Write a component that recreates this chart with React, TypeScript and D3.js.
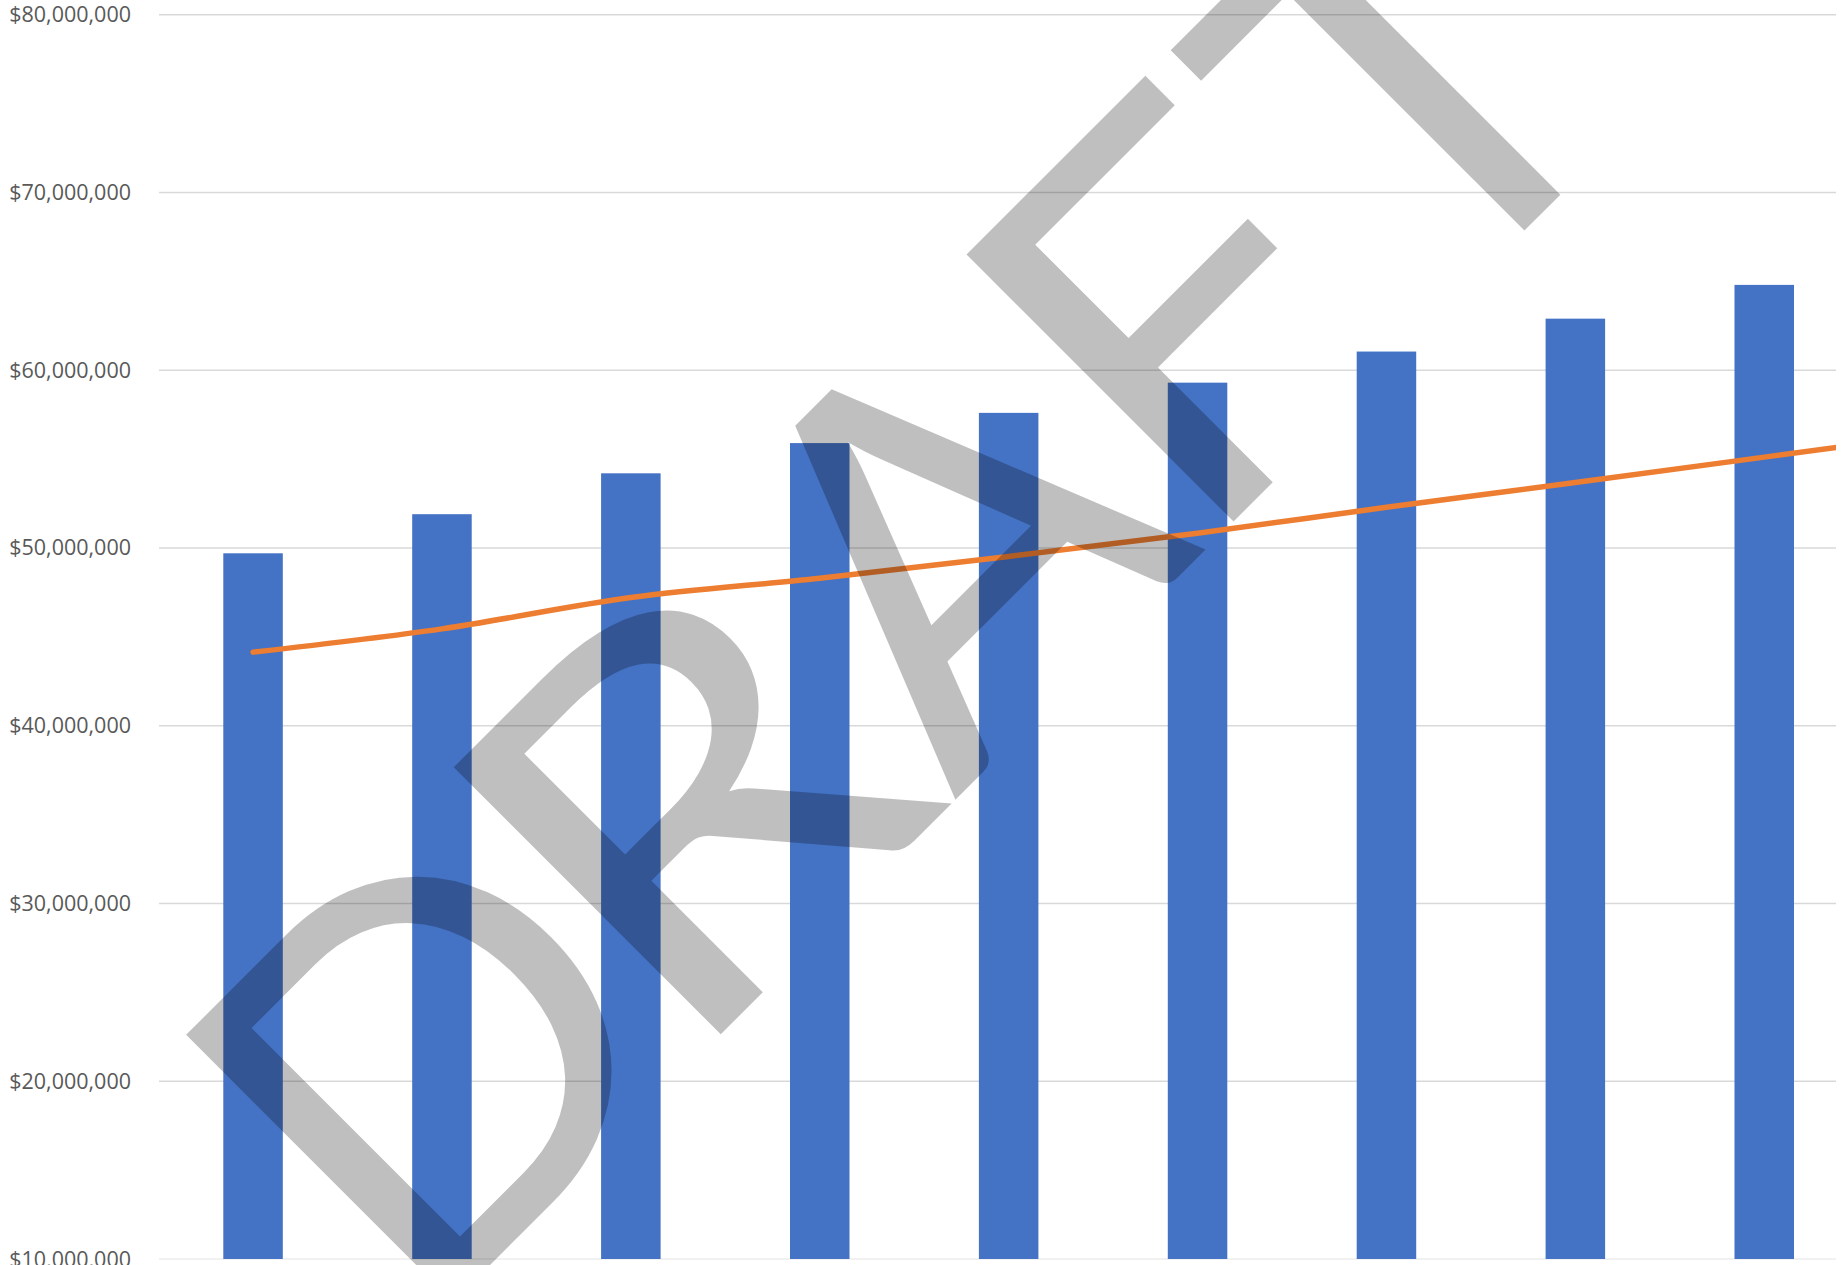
import React from "react";
import * as d3 from "d3";

// ---- data ----
const categories = ["1", "2", "3", "4", "5", "6", "7", "8", "9", "10"];
const barValues = [49700000, 51900000, 54200000, 55900000, 57600000, 59300000, 61050000, 62900000, 64800000];
const lineValues = [44140000, 45450000, 47210000, 48300000, 49520000, 50830000, 52290000, 53680000, 55110000, 56550000];
const yTicks = [10000000, 20000000, 30000000, 40000000, 50000000, 60000000, 70000000, 80000000];
const watermarkLetters = ["D", "R", "A", "F", "T"];

// ---- layout ----
const W = 1844;
const H = 1265;
const plotLeft = 159;
const plotRight = 1836;
const yTop = 14.7;
const yBottom = 1259;
const step = 188.9;
const letterCenters = [-448, -85, 287, 613, 940];
const letterScaleX = [1, 1.17, 1, 1.087, 1];
const watermarkBaseline = 1241;

export default function App() {
  const x = d3
    .scaleBand<string>()
    .domain(categories)
    .range([158.6, 158.6 + step * categories.length])
    .paddingInner(0.685)
    .paddingOuter(0.3425);
  const y = d3.scaleLinear().domain([10000000, 80000000]).range([yBottom, yTop]);
  const fmt = d3.format("$,.0f");
  const cx = (c: string) => (x(c) as number) + x.bandwidth() / 2;

  const line = d3
    .line<number>()
    .x((_, i) => cx(categories[i]))
    .y((d) => y(d))
    .curve(d3.curveCatmullRom.alpha(0.5));

  return (
    <svg
      width={W}
      height={H}
      style={{ position: "absolute", left: 0, top: 0, display: "block", background: "#fff" }}
    >
      <defs>
        <clipPath id="plot">
          <rect x={plotLeft} y={0} width={plotRight - plotLeft} height={H} />
        </clipPath>
      </defs>
      {yTicks.map((t, i) => (
        <g key={t}>
          <line
            x1={plotLeft}
            x2={plotRight}
            y1={y(t)}
            y2={y(t)}
            stroke={i === 0 ? "#ececec" : "#d9d9d9"}
            strokeWidth={1.5}
          />
          <text
            x={131}
            y={y(t) + 7.5}
            textAnchor="end"
            fontFamily="'Open Sans', sans-serif"
            fontSize={21.5}
            fill="#595959"
          >
            {fmt(t)}
          </text>
        </g>
      ))}
      <g clipPath="url(#plot)">
        {barValues.map((v, i) => (
          <rect
            key={i}
            x={x(categories[i])}
            y={y(v)}
            width={x.bandwidth()}
            height={y(10000000) - y(v)}
            fill="#4472C4"
          />
        ))}
        <path
          d={line(lineValues) || ""}
          fill="none"
          stroke="#ED7D31"
          strokeWidth={5.5}
          strokeLinecap="round"
          strokeLinejoin="round"
        />
      </g>
      <g transform="rotate(-45)" fill="rgba(0,0,0,0.25)" fontFamily="Lato, sans-serif" fontSize={527}>
        {watermarkLetters.map((l, i) => (
          <text
            key={i}
            transform={`translate(${letterCenters[i]},${watermarkBaseline}) scale(${letterScaleX[i]},1)`}
            textAnchor="middle"
          >
            {l}
          </text>
        ))}
      </g>
    </svg>
  );
}
